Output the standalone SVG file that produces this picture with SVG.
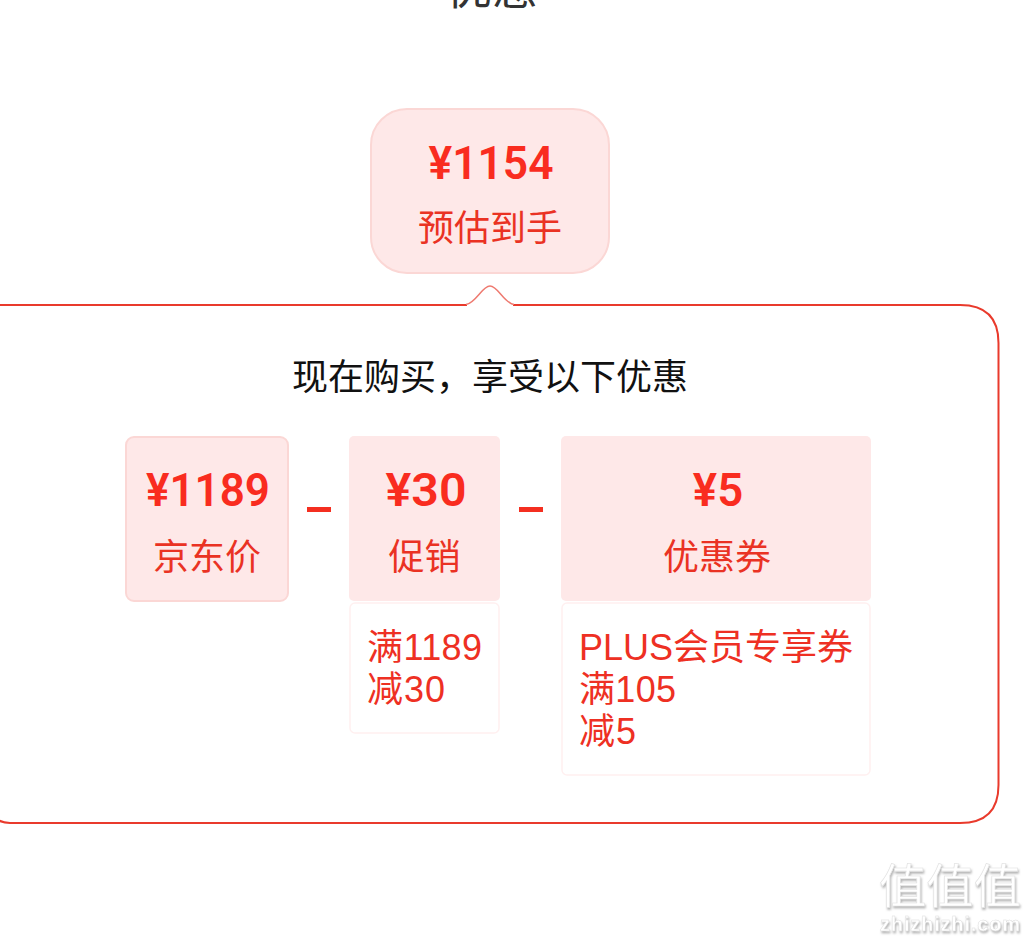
<svg xmlns="http://www.w3.org/2000/svg" width="1029" height="940" viewBox="0 0 1029 940">
<defs>
<filter id="wm-shadow" x="-5%" y="-5%" width="110%" height="115%"><feDropShadow dx="1" dy="2" stdDeviation="0.8" flood-color="#9a9a9a" flood-opacity="0.75"/></filter>
</defs>
<style>
text{font-family:"Liberation Sans","Noto Sans CJK SC",sans-serif}
.num{font-family:"Roboto","Noto Sans CJK SC",sans-serif;font-size:45.5px;font-weight:600;fill:#f92c1f;text-anchor:middle}
.lab{font-size:36px;fill:#ea3223;text-anchor:middle}
.det{font-size:36px;fill:#ee3023}
.pink{fill:#fee8e8}
.pinks{fill:#fee8e8;stroke:#fbd7d5;stroke-width:2}
.white{fill:#fff;stroke:#fff0f0;stroke-width:1.5}
.minus{fill:#f42f20}
</style>
<rect width="1029" height="940" fill="#fff"/>
<text id="title" x="492" y="4" font-size="46" fill="#333" text-anchor="middle">优惠</text>
<g id="panel">
<path d="M-10 305H467C476 305 482 286 490 286C498 286 504 305 513 305H960Q998.500 305 998.500 343V785Q998.500 823 960 823H10Q-10 823-10 800Z" fill="#fff" stroke="none"/>
<path d="M467 305H-10V800Q-10 823 10 823H960Q998.500 823 998.500 785V343Q998.500 305 960 305H513" fill="none" stroke="#e93a2c" stroke-width="2"/>
<path d="M466 304.500C476 303 482 286 490 286C498 286 504 303 514 304.500" fill="none" stroke="#ee7a70" stroke-width="1.500"/>
<text x="490" y="390" font-size="36" fill="#111" text-anchor="middle">现在购买，享受以下优惠</text>
</g>
<g id="total">
<rect x="371" y="109" width="238" height="164" rx="36" class="pinks"/>
<text x="491" y="179" class="num" textLength="125" lengthAdjust="spacingAndGlyphs">¥1154</text>
<text x="490" y="241" class="lab">预估到手</text>
</g>
<g id="jd-price">
<rect x="126" y="437" width="162" height="164" rx="8" class="pinks"/>
<text x="208" y="506" class="num" textLength="124" lengthAdjust="spacingAndGlyphs">¥1189</text>
<text x="207" y="570" class="lab">京东价</text>
</g>
<g id="minus-1"><rect x="307" y="507" width="24" height="5" class="minus"/></g>
<g id="promo">
<rect x="349" y="436" width="151" height="165" rx="5" class="pink"/>
<text x="426" y="506" class="num" textLength="81" lengthAdjust="spacingAndGlyphs">¥30</text>
<text x="424.500" y="570" class="lab">促销</text>
<rect x="350" y="603" width="149" height="130" rx="5" class="white"/>
<text x="367" y="660" class="det" textLength="115">满1189</text>
<text x="367" y="702" class="det" textLength="78">减30</text>
</g>
<g id="minus-2"><rect x="519" y="507" width="24" height="5" class="minus"/></g>
<g id="coupon">
<rect x="561" y="436" width="310" height="165" rx="5" class="pink"/>
<text x="718" y="506" class="num">¥5</text>
<text x="717" y="570" class="lab">优惠券</text>
<rect x="562" y="603" width="308" height="172" rx="5" class="white"/>
<text x="579" y="660" class="det">PLUS会员专享券</text>
<text x="579" y="702" class="det" textLength="97">满105</text>
<text x="579" y="744" class="det" textLength="57">减5</text>
</g>
<g id="watermark" filter="url(#wm-shadow)">
<text x="950" y="903" font-size="47" fill="#fff" stroke="#e2e2e2" stroke-width="0.6" text-anchor="middle" textLength="142" lengthAdjust="spacingAndGlyphs">值值值</text>
<text x="950" y="931" font-size="20" font-weight="700" fill="#fff" stroke="#dcdcdc" stroke-width="0.4" text-anchor="middle" textLength="140">zhizhizhi.com</text>
</g>
</svg>
